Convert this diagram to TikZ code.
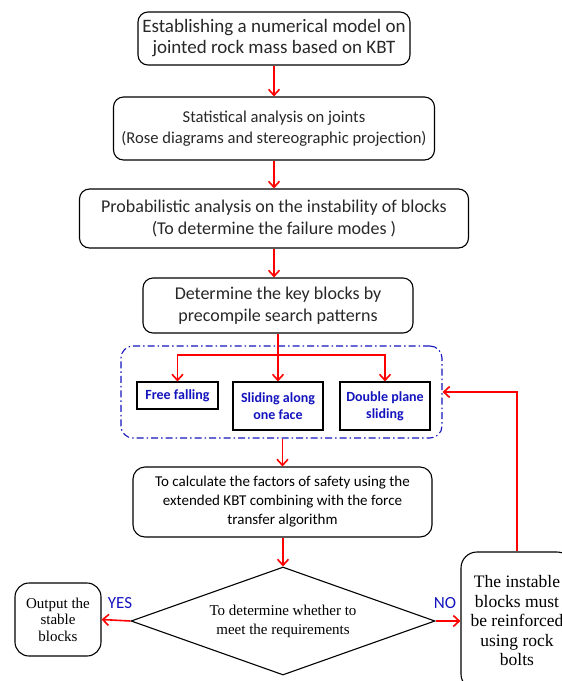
\documentclass[tikz,border=0pt]{standalone}
\usepackage{fontspec}
\newfontfamily\calib{Carlito}
\newfontfamily\tms{Liberation Serif}
\usetikzlibrary{arrows.meta,shapes.geometric,positioning,calc}
\definecolor{txtgray}{RGB}{40,40,40}
\definecolor{modeblue}{RGB}{20,20,190}

\begin{document}
\begin{tikzpicture}[x=1pt, y=-1pt,
    stp/.style={draw, rounded corners=10pt, line width=1.1pt, align=center, inner sep=0pt, font=\calib\fontsize{18}{22}\selectfont, text=txtgray},
    mode/.style={draw, line width=1.1pt, align=center, inner sep=0pt, font=\calib\bfseries\fontsize{14}{17}\selectfont, text=modeblue},
    res/.style={draw, rounded corners=14pt, line width=1.1pt, align=center, inner sep=0pt},
    arr/.style={-{Straight Barb[length=6pt, width=11pt, line width=1.6pt]}, line width=1.6pt, red},
    lbl/.style={font=\calib\fontsize{17}{17}\selectfont, text=modeblue}
]
\clip (0,0) rectangle (562,681);

\node[stp, font=\calib\fontsize{19}{21}\selectfont, minimum width=272pt, minimum height=53pt] (model) at (274,38.5) {Establishing a numerical model on\\jointed rock mass based on KBT};
\node[stp, font=\calib\fontsize{16.6}{21}\selectfont, minimum width=321pt, minimum height=63pt] (stat) at (274,128.5) {Statistical analysis on joints\\(Rose diagrams and stereographic projection)};
\node[stp, minimum width=389pt, minimum height=59pt] (prob) at (274,218.5) {Probabilistic analysis on the instability of blocks\\(To determine the failure modes )};
\node[stp, minimum width=270pt, minimum height=55pt] (keyb) at (278,305.5) {Determine the key blocks by\\precompile search patterns};

\node[draw=modeblue, line width=1.1pt, dash pattern=on 7pt off 3pt on 1.5pt off 3pt, rounded corners=12pt, minimum width=321pt, minimum height=92pt] (modes) at (281.5,392) {};
\node[mode, minimum width=81pt, minimum height=27pt] (fall) at (177.5,395.5) {Free falling};
\node[mode, minimum width=90pt, minimum height=48pt] (slide) at (278,406) {Sliding along\\one face};
\node[mode, minimum width=90pt, minimum height=48pt] (dbl) at (385,406) {Double plane\\sliding};
\coordinate (split) at (278,355);

\node[stp, rounded corners=12pt, font=\calib\fontsize{15}{19}\selectfont, text=black, minimum width=299pt, minimum height=70pt] (fos) at (282.5,502) {To calculate the factors of safety using the\\extended KBT combining with the force\\transfer algorithm};

\node[draw, diamond, aspect=2.8, line width=1.1pt, inner sep=0pt, minimum width=304pt, minimum height=108pt, align=center, font=\tms\fontsize{15}{19}\selectfont] (req) at (283,621) {To determine whether to\\meet the requirements};

\node[res, minimum width=86pt, minimum height=73pt, font=\tms\fontsize{15}{16.5}\selectfont] (out) at (58,619.5) {Output the\\stable\\blocks};
\node[res, rounded corners=16pt, minimum width=112pt, minimum height=138pt, font=\tms\fontsize{17.5}{19.5}\selectfont] (bolt) at (517,621) {The instable\\blocks must\\be reinforced\\using rock\\bolts};

\node[lbl] (yes) at (120,603) {YES};
\node[lbl] (no) at (445,603) {NO};

\draw[arr] (model) -- (stat);
\draw[arr] (stat) -- (prob);
\draw[arr] (prob.south) -- (prob.south |- keyb.north);
\draw[arr] (keyb) -- (slide);
\draw[arr] (split) -| (fall.north);
\draw[arr] (split) -| (dbl.north);
\draw[arr] (modes.south -| fos.north) -- (fos.north);
\draw[arr] (fos.south -| req.north) -- (req.north);
\draw[arr] (req.west) -- (out.east);
\draw[arr] (req.east) -- (bolt.west);
\draw[arr] (bolt.north) |- (modes.east);
\end{tikzpicture}
\end{document}
